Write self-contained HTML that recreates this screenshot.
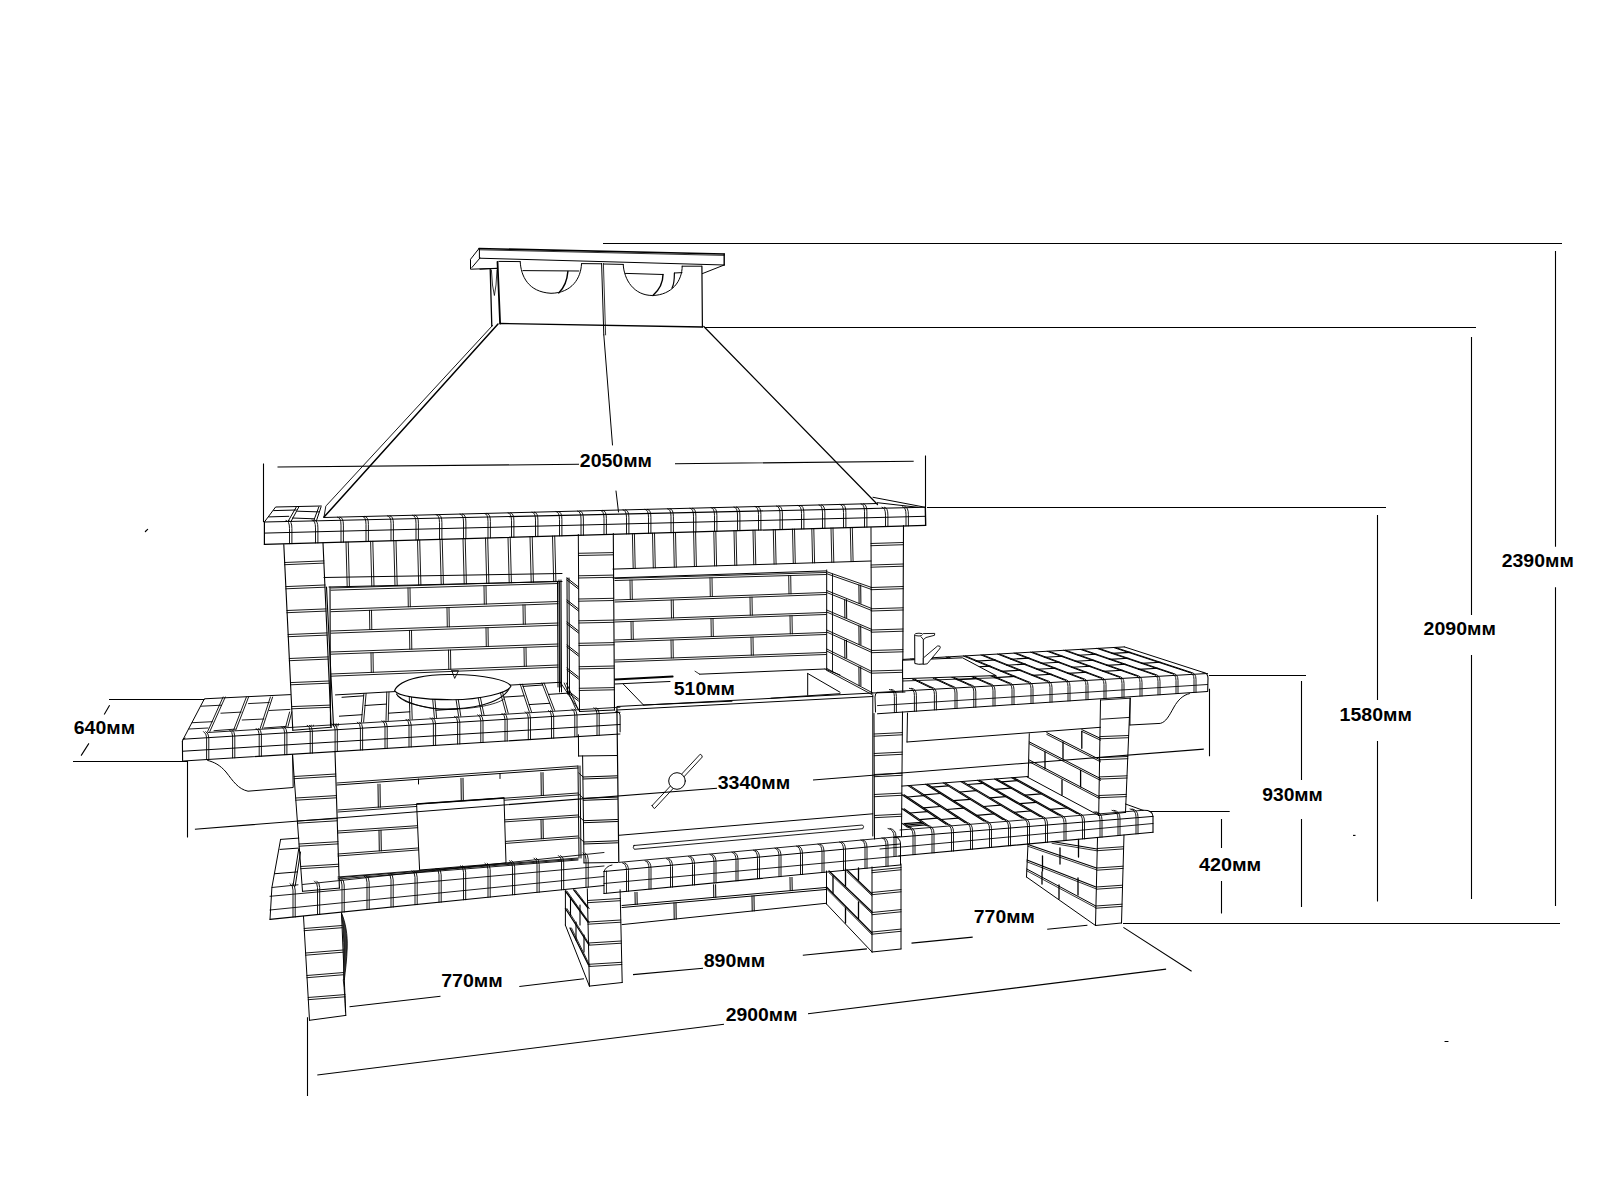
<!DOCTYPE html>
<html><head><meta charset="utf-8"><style>
html,body{margin:0;padding:0;background:#fff;}
svg{display:block;}
text{font-family:"Liberation Sans",sans-serif;font-weight:bold;font-size:18.4px;fill:#000;}
</style></head><body>
<svg width="1600" height="1200" viewBox="0 0 1600 1200">
<rect width="1600" height="1200" fill="#fff"/>
<g id="draw" stroke="#000" stroke-width="1" fill="none" stroke-linejoin="round" stroke-linecap="round">
<path d="M479.0 248.5 L724.2 254.0" stroke-width="1.6"/>
<path d="M479.0 249.8 L724.2 255.4" stroke-width="0.8"/>
<path d="M479.0 248.5 L470.5 259.3 L470.5 269.2 L497.0 268.3"/>
<path d="M479.4 248.7 L479.4 258.2"/>
<path d="M480.0 258.0 L471.9 267.5"/>
<path d="M479.4 258.2 L724.2 265.0"/>
<path d="M724.2 254.0 L724.2 265.0" stroke-width="1.4"/>
<path d="M724.2 265.0 L702.4 273.6"/>
<path d="M490.2 268.8 L491.8 326.1" stroke-width="1.3"/>
<path d="M497.5 261.8 L500.1 323.5" stroke-width="1.8"/>
<path d="M491.4 270.0 L492.5 285.0 L494.4 295.5 L496.0 285.0 L497.0 270.0" stroke-width="0.8"/>
<path d="M498.8 261.4 L520.2 261.6"/>
<path d="M581.5 263.6 L601.6 263.8"/>
<path d="M603.5 264.0 L623.2 264.4"/>
<path d="M682.2 266.2 L701.5 266.2"/>
<path d="M701.9 266.2 L702.4 327.0" stroke-width="1.2"/>
<path d="M500.1 323.5 L702.4 327.0" stroke-width="1.3"/>
<path d="M601.6 263.4 L603.8 334.9" stroke-width="1.0"/>
<path d="M603.4 263.4 L605.6 334.9" stroke-width="0.8"/>
<path d="M520.2 261.8 C521 276 528 292 551 293.3 C572 293 581 278 581.5 264"/>
<path d="M522.9 270.6 L578.9 271.0"/>
<path d="M567.9 271.4 C567 282 563 289 558.7 292.9" stroke-width="1.4"/>
<path d="M623.2 264.4 C624 280 634 295.5 652.5 295.5 C672 295 682.2 281 682.2 266.2"/>
<path d="M625.4 273.4 L663.0 274.5"/>
<path d="M674.4 273.0 L682.0 272.6"/>
<path d="M663 274.5 C663 285 658 291 652.9 295.5" stroke-width="1.4"/>
<path d="M674.4 273 C674.4 280 674.4 284 672 288" stroke-width="1.2"/>
<path d="M480.0 269.2 L496.6 268.4"/>
<path d="M492.5 325.5 L326.6 505.3 L325.8 506.2 L324.0 517.1" stroke-width="0.9"/>
<path d="M498.0 324.0 L324.0 517.1" stroke-width="1.5"/>
<path d="M703.8 326.5 L877.5 504.5" stroke-width="1.2"/>
<path d="M873.0 497.3 L925.3 507.3"/>
<path d="M877.3 502.7 L918.0 507.3"/>
<path d="M603.8 334.9 L612.5 445.0"/>
<path d="M616.0 491.0 L618.5 512.0"/>
<path d="M264.4 522.0 L925.3 507.3" stroke-width="1.1"/>
<path d="M264.4 533.1 L925.3 516.3"/>
<path d="M264.4 544.4 L925.7 525.3" stroke-width="1.2"/>
<path d="M264.4 522.0 L264.4 544.4" stroke-width="1.2"/>
<path d="M925.3 507.3 L925.7 525.3" stroke-width="1.3"/>
<path d="M264.4 522.0 L275.6 507.0 L321.3 506.0"/>
<path d="M273.7 510.6 L296.3 510.0"/>
<path d="M297.5 511.2 L318.8 511.9"/>
<path d="M268.8 516.9 L288.8 516.3"/>
<path d="M292.5 518.0 L313.8 518.8"/>
<path d="M288.0 521.5 L296.3 507.0"/>
<path d="M291.0 521.5 L298.8 507.0"/>
<path d="M313.8 520.5 L318.8 507.0"/>
<path d="M316.5 520.5 L321.0 507.0"/>
<path d="M286.0 520.4 Q289.5 520.7 289.5 528.4 L289.5 543.7" stroke-width="0.9"/>
<path d="M288.4 520.4 Q291.9 520.7 291.9 528.4 L291.9 543.7" stroke-width="0.9"/>
<path d="M312.0 519.9 Q315.5 520.2 315.5 527.9 L315.5 542.9" stroke-width="0.9"/>
<path d="M314.4 519.9 Q317.9 520.2 317.9 527.9 L317.9 542.9" stroke-width="0.9"/>
<path d="M337.5 517.1 Q341.0 517.4 341.0 525.1 L341.0 542.2" stroke-width="0.9"/>
<path d="M339.9 517.1 Q343.4 517.4 343.4 525.1 L343.4 542.2" stroke-width="0.9"/>
<path d="M362.5 516.4 Q366.0 516.7 366.0 524.4 L366.0 541.5" stroke-width="0.9"/>
<path d="M364.9 516.4 Q368.4 516.7 368.4 524.4 L368.4 541.5" stroke-width="0.9"/>
<path d="M387.5 515.8 Q391.0 516.1 391.0 523.8 L391.0 540.7" stroke-width="0.9"/>
<path d="M389.9 515.8 Q393.4 516.1 393.4 523.8 L393.4 540.7" stroke-width="0.9"/>
<path d="M412.5 515.2 Q416.0 515.5 416.0 523.2 L416.0 540.0" stroke-width="0.9"/>
<path d="M414.9 515.2 Q418.4 515.5 418.4 523.2 L418.4 540.0" stroke-width="0.9"/>
<path d="M436.0 514.6 Q439.5 514.9 439.5 522.6 L439.5 539.3" stroke-width="0.9"/>
<path d="M438.4 514.6 Q441.9 514.9 441.9 522.6 L441.9 539.3" stroke-width="0.9"/>
<path d="M460.0 514.0 Q463.5 514.3 463.5 522.0 L463.5 538.6" stroke-width="0.9"/>
<path d="M462.4 514.0 Q465.9 514.3 465.9 522.0 L465.9 538.6" stroke-width="0.9"/>
<path d="M484.5 513.4 Q488.0 513.7 488.0 521.4 L488.0 537.9" stroke-width="0.9"/>
<path d="M486.9 513.4 Q490.4 513.7 490.4 521.4 L490.4 537.9" stroke-width="0.9"/>
<path d="M508.0 512.8 Q511.5 513.1 511.5 520.8 L511.5 537.3" stroke-width="0.9"/>
<path d="M510.4 512.8 Q513.9 513.1 513.9 520.8 L513.9 537.3" stroke-width="0.9"/>
<path d="M532.0 512.1 Q535.5 512.4 535.5 520.1 L535.5 536.6" stroke-width="0.9"/>
<path d="M534.4 512.1 Q537.9 512.4 537.9 520.1 L537.9 536.6" stroke-width="0.9"/>
<path d="M556.0 511.5 Q559.5 511.8 559.5 519.5 L559.5 535.9" stroke-width="0.9"/>
<path d="M558.4 511.5 Q561.9 511.8 561.9 519.5 L561.9 535.9" stroke-width="0.9"/>
<path d="M577.5 511.0 Q581.0 511.3 581.0 519.0 L581.0 535.3" stroke-width="0.9"/>
<path d="M579.9 511.0 Q583.4 511.3 583.4 519.0 L583.4 535.3" stroke-width="0.9"/>
<path d="M600.5 510.4 Q604.0 510.7 604.0 518.4 L604.0 534.6" stroke-width="0.9"/>
<path d="M602.9 510.4 Q606.4 510.7 606.4 518.4 L606.4 534.6" stroke-width="0.9"/>
<path d="M623.0 509.8 Q626.5 510.1 626.5 517.8 L626.5 533.9" stroke-width="0.9"/>
<path d="M625.4 509.8 Q628.9 510.1 628.9 517.8 L628.9 533.9" stroke-width="0.9"/>
<path d="M645.0 509.3 Q648.5 509.6 648.5 517.3 L648.5 533.3" stroke-width="0.9"/>
<path d="M647.4 509.3 Q650.9 509.6 650.9 517.3 L650.9 533.3" stroke-width="0.9"/>
<path d="M667.5 508.7 Q671.0 509.0 671.0 516.7 L671.0 532.7" stroke-width="0.9"/>
<path d="M669.9 508.7 Q673.4 509.0 673.4 516.7 L673.4 532.7" stroke-width="0.9"/>
<path d="M690.0 508.2 Q693.5 508.5 693.5 516.2 L693.5 532.0" stroke-width="0.9"/>
<path d="M692.4 508.2 Q695.9 508.5 695.9 516.2 L695.9 532.0" stroke-width="0.9"/>
<path d="M711.0 507.6 Q714.5 507.9 714.5 515.6 L714.5 531.4" stroke-width="0.9"/>
<path d="M713.4 507.6 Q716.9 507.9 716.9 515.6 L716.9 531.4" stroke-width="0.9"/>
<path d="M734.0 507.0 Q737.5 507.3 737.5 515.0 L737.5 530.7" stroke-width="0.9"/>
<path d="M736.4 507.0 Q739.9 507.3 739.9 515.0 L739.9 530.7" stroke-width="0.9"/>
<path d="M755.0 506.5 Q758.5 506.8 758.5 514.5 L758.5 530.1" stroke-width="0.9"/>
<path d="M757.4 506.5 Q760.9 506.8 760.9 514.5 L760.9 530.1" stroke-width="0.9"/>
<path d="M776.5 506.0 Q780.0 506.3 780.0 514.0 L780.0 529.5" stroke-width="0.9"/>
<path d="M778.9 506.0 Q782.4 506.3 782.4 514.0 L782.4 529.5" stroke-width="0.9"/>
<path d="M798.0 505.4 Q801.5 505.7 801.5 513.4 L801.5 528.9" stroke-width="0.9"/>
<path d="M800.4 505.4 Q803.9 505.7 803.9 513.4 L803.9 528.9" stroke-width="0.9"/>
<path d="M819.0 504.9 Q822.5 505.2 822.5 512.9 L822.5 528.3" stroke-width="0.9"/>
<path d="M821.4 504.9 Q824.9 505.2 824.9 512.9 L824.9 528.3" stroke-width="0.9"/>
<path d="M840.0 504.4 Q843.5 504.7 843.5 512.4 L843.5 527.7" stroke-width="0.9"/>
<path d="M842.4 504.4 Q845.9 504.7 845.9 512.4 L845.9 527.7" stroke-width="0.9"/>
<path d="M861.0 503.8 Q864.5 504.1 864.5 511.8 L864.5 527.1" stroke-width="0.9"/>
<path d="M863.4 503.8 Q866.9 504.1 866.9 511.8 L866.9 527.1" stroke-width="0.9"/>
<path d="M882.0 507.2 Q885.5 507.5 885.5 515.2 L885.5 526.5" stroke-width="0.9"/>
<path d="M884.4 507.2 Q887.9 507.5 887.9 515.2 L887.9 526.5" stroke-width="0.9"/>
<path d="M902.5 506.7 Q906.0 507.0 906.0 514.7 L906.0 525.9" stroke-width="0.9"/>
<path d="M904.9 506.7 Q908.4 507.0 908.4 514.7 L908.4 525.9" stroke-width="0.9"/>
<path d="M324.0 517.5 L877.3 503.5"/>
<path d="M324.0 577.5 L562.0 573.5"/>
<path d="M329.0 587.0 L562.0 581.5"/>
<path d="M346.0 542.0 L347.2 586.6" stroke-width="0.9"/>
<path d="M348.2 542.0 L349.4 586.6" stroke-width="0.9"/>
<path d="M370.6 541.3 L371.8 586.0" stroke-width="0.9"/>
<path d="M372.8 541.3 L374.0 586.0" stroke-width="0.9"/>
<path d="M393.8 540.7 L395.0 585.5" stroke-width="0.9"/>
<path d="M396.0 540.7 L397.2 585.5" stroke-width="0.9"/>
<path d="M417.5 540.0 L418.7 584.9" stroke-width="0.9"/>
<path d="M419.7 540.0 L420.9 584.9" stroke-width="0.9"/>
<path d="M440.0 539.3 L441.2 584.4" stroke-width="0.9"/>
<path d="M442.2 539.3 L443.4 584.4" stroke-width="0.9"/>
<path d="M463.0 538.7 L464.2 583.8" stroke-width="0.9"/>
<path d="M465.2 538.7 L466.4 583.8" stroke-width="0.9"/>
<path d="M485.5 538.0 L486.7 583.3" stroke-width="0.9"/>
<path d="M487.7 538.0 L488.9 583.3" stroke-width="0.9"/>
<path d="M508.0 537.4 L509.2 582.8" stroke-width="0.9"/>
<path d="M510.2 537.4 L511.4 582.8" stroke-width="0.9"/>
<path d="M530.0 536.7 L531.2 582.3" stroke-width="0.9"/>
<path d="M532.2 536.7 L533.4 582.3" stroke-width="0.9"/>
<path d="M552.5 536.1 L553.7 581.7" stroke-width="0.9"/>
<path d="M554.7 536.1 L555.9 581.7" stroke-width="0.9"/>
<path d="M613.0 569.1 L871.0 561.0"/>
<path d="M613.0 577.9 L826.0 570.9"/>
<path d="M632.4 533.8 L633.2 568.5" stroke-width="0.9"/>
<path d="M634.4 533.8 L635.2 568.5" stroke-width="0.9"/>
<path d="M652.5 533.2 L653.3 567.9" stroke-width="0.9"/>
<path d="M654.5 533.2 L655.3 567.9" stroke-width="0.9"/>
<path d="M673.5 532.6 L674.3 567.2" stroke-width="0.9"/>
<path d="M675.5 532.6 L676.3 567.2" stroke-width="0.9"/>
<path d="M693.6 532.0 L694.4 566.6" stroke-width="0.9"/>
<path d="M695.6 532.0 L696.4 566.6" stroke-width="0.9"/>
<path d="M713.8 531.4 L714.6 565.9" stroke-width="0.9"/>
<path d="M715.8 531.4 L716.6 565.9" stroke-width="0.9"/>
<path d="M734.0 530.8 L734.8 565.3" stroke-width="0.9"/>
<path d="M736.0 530.8 L736.8 565.3" stroke-width="0.9"/>
<path d="M753.0 530.3 L753.8 564.7" stroke-width="0.9"/>
<path d="M755.0 530.3 L755.8 564.7" stroke-width="0.9"/>
<path d="M773.3 529.7 L774.1 564.1" stroke-width="0.9"/>
<path d="M775.3 529.7 L776.1 564.1" stroke-width="0.9"/>
<path d="M792.5 529.1 L793.3 563.5" stroke-width="0.9"/>
<path d="M794.5 529.1 L795.3 563.5" stroke-width="0.9"/>
<path d="M811.8 528.6 L812.6 562.9" stroke-width="0.9"/>
<path d="M813.8 528.6 L814.6 562.9" stroke-width="0.9"/>
<path d="M831.0 528.0 L831.8 562.3" stroke-width="0.9"/>
<path d="M833.0 528.0 L833.8 562.3" stroke-width="0.9"/>
<path d="M850.3 527.5 L851.1 561.6" stroke-width="0.9"/>
<path d="M852.3 527.5 L853.1 561.6" stroke-width="0.9"/>
<path d="M283.8 544.6 L292.8 730.3" stroke-width="1.1"/>
<path d="M323.0 543.0 L331.2 727.3" stroke-width="1.1"/>
<path d="M292.8 730.3 L331.2 727.3" stroke-width="1.1"/>
<path d="M284.6 562.5 L323.9 560.9" stroke-width="0.9"/>
<path d="M284.6 564.7 L323.9 563.1" stroke-width="0.9"/>
<path d="M285.8 586.6 L325.0 585.0" stroke-width="0.9"/>
<path d="M285.8 588.8 L325.0 587.2" stroke-width="0.9"/>
<path d="M286.9 610.5 L326.0 608.9" stroke-width="0.9"/>
<path d="M286.9 612.7 L326.0 611.1" stroke-width="0.9"/>
<path d="M288.1 634.5 L327.1 632.9" stroke-width="0.9"/>
<path d="M288.1 636.7 L327.1 635.1" stroke-width="0.9"/>
<path d="M289.3 658.5 L328.2 656.9" stroke-width="0.9"/>
<path d="M289.3 660.7 L328.2 659.1" stroke-width="0.9"/>
<path d="M290.4 682.6 L329.2 681.0" stroke-width="0.9"/>
<path d="M290.4 684.8 L329.2 683.2" stroke-width="0.9"/>
<path d="M291.6 706.6 L330.3 705.1" stroke-width="0.9"/>
<path d="M291.6 708.8 L330.3 707.3" stroke-width="0.9"/>
<path d="M326.5 587.0 L333.5 726.0" stroke-width="1.1"/>
<path d="M330.0 587.0 L330.5 726.0" stroke-width="1.1"/>
<path d="M578.3 534.5 L579.5 711.5" stroke-width="1.0"/>
<path d="M613.3 533.5 L614.5 710.0" stroke-width="1.1"/>
<path d="M579.5 711.5 L614.5 710.0" stroke-width="1.1"/>
<path d="M578.4 553.3 L613.4 552.6" stroke-width="0.9"/>
<path d="M578.4 555.5 L613.4 554.8" stroke-width="0.9"/>
<path d="M578.6 575.8 L613.6 575.1" stroke-width="0.9"/>
<path d="M578.6 578.0 L613.6 577.3" stroke-width="0.9"/>
<path d="M578.7 599.0 L613.7 598.3" stroke-width="0.9"/>
<path d="M578.7 601.2 L613.7 600.5" stroke-width="0.9"/>
<path d="M578.9 620.8 L613.9 620.1" stroke-width="0.9"/>
<path d="M578.9 623.0 L613.9 622.3" stroke-width="0.9"/>
<path d="M579.0 643.3 L614.0 642.6" stroke-width="0.9"/>
<path d="M579.0 645.5 L614.0 644.8" stroke-width="0.9"/>
<path d="M579.2 666.7 L614.2 666.0" stroke-width="0.9"/>
<path d="M579.2 668.9 L614.2 668.2" stroke-width="0.9"/>
<path d="M579.3 688.3 L614.4 687.6" stroke-width="0.9"/>
<path d="M579.3 690.5 L614.4 689.8" stroke-width="0.9"/>
<path d="M567.0 578.0 L567.5 694.0"/>
<path d="M569.0 578.0 L569.5 694.0"/>
<path d="M567.0 578.0 L578.5 587.0"/>
<path d="M567.0 580.0 L578.5 589.0"/>
<path d="M567.0 600.0 L578.5 609.0"/>
<path d="M567.0 602.0 L578.5 611.0"/>
<path d="M567.0 622.0 L578.5 631.0"/>
<path d="M567.0 624.0 L578.5 633.0"/>
<path d="M567.0 645.0 L578.5 654.0"/>
<path d="M567.0 647.0 L578.5 656.0"/>
<path d="M567.0 668.0 L578.5 677.0"/>
<path d="M567.0 670.0 L578.5 679.0"/>
<path d="M567.0 690.0 L578.5 699.0"/>
<path d="M567.0 692.0 L578.5 701.0"/>
<path d="M559.0 580.0 L559.5 692.0"/>
<path d="M561.0 580.0 L561.5 692.0"/>
<path d="M871.0 527.5 L871.5 693.0" stroke-width="1.0"/>
<path d="M903.5 525.5 L902.7 692.0" stroke-width="1.1"/>
<path d="M871.5 693.0 L905.0 692.0" stroke-width="1.0"/>
<path d="M871.0 543.5 L903.4 542.5" stroke-width="0.9"/>
<path d="M871.0 545.7 L903.4 544.7" stroke-width="0.9"/>
<path d="M871.1 565.0 L903.3 564.0" stroke-width="0.9"/>
<path d="M871.1 567.2 L903.3 566.2" stroke-width="0.9"/>
<path d="M871.2 587.5 L903.2 586.5" stroke-width="0.9"/>
<path d="M871.2 589.7 L903.2 588.7" stroke-width="0.9"/>
<path d="M871.2 608.8 L903.1 607.8" stroke-width="0.9"/>
<path d="M871.2 611.0 L903.1 610.0" stroke-width="0.9"/>
<path d="M871.3 630.0 L903.0 629.0" stroke-width="0.9"/>
<path d="M871.3 632.2 L903.0 631.2" stroke-width="0.9"/>
<path d="M871.4 650.5 L902.9 649.6" stroke-width="0.9"/>
<path d="M871.4 652.7 L902.9 651.8" stroke-width="0.9"/>
<path d="M871.4 671.0 L902.8 670.1" stroke-width="0.9"/>
<path d="M871.4 673.2 L902.8 672.3" stroke-width="0.9"/>
<path d="M331.0 588.0 L558.0 581.3" stroke-width="0.9"/>
<path d="M331.0 590.2 L558.0 583.5" stroke-width="0.9"/>
<path d="M331.0 609.5 L558.0 601.5" stroke-width="0.9"/>
<path d="M331.0 611.7 L558.0 603.7" stroke-width="0.9"/>
<path d="M331.0 631.0 L558.0 623.0" stroke-width="0.9"/>
<path d="M331.0 633.2 L558.0 625.2" stroke-width="0.9"/>
<path d="M331.0 652.0 L558.0 644.0" stroke-width="0.9"/>
<path d="M331.0 654.2 L558.0 646.2" stroke-width="0.9"/>
<path d="M331.0 674.0 L558.0 665.0" stroke-width="0.9"/>
<path d="M331.0 676.2 L558.0 667.2" stroke-width="0.9"/>
<path d="M408.0 587.9 L408.3 606.8" stroke-width="0.9"/>
<path d="M410.0 587.9 L410.3 606.8" stroke-width="0.9"/>
<path d="M484.0 585.7 L484.3 604.1" stroke-width="0.9"/>
<path d="M486.0 585.7 L486.3 604.1" stroke-width="0.9"/>
<path d="M369.5 610.3 L369.8 629.6" stroke-width="0.9"/>
<path d="M371.5 610.3 L371.8 629.6" stroke-width="0.9"/>
<path d="M447.0 607.6 L447.3 626.9" stroke-width="0.9"/>
<path d="M449.0 607.6 L449.3 626.9" stroke-width="0.9"/>
<path d="M523.0 604.9 L523.3 624.2" stroke-width="0.9"/>
<path d="M525.0 604.9 L525.3 624.2" stroke-width="0.9"/>
<path d="M409.5 630.4 L409.8 649.2" stroke-width="0.9"/>
<path d="M411.5 630.4 L411.8 649.2" stroke-width="0.9"/>
<path d="M486.0 627.7 L486.3 646.5" stroke-width="0.9"/>
<path d="M488.0 627.7 L488.3 646.5" stroke-width="0.9"/>
<path d="M371.0 652.8 L371.3 672.4" stroke-width="0.9"/>
<path d="M373.0 652.8 L373.3 672.4" stroke-width="0.9"/>
<path d="M448.5 650.1 L448.8 669.3" stroke-width="0.9"/>
<path d="M450.5 650.1 L450.8 669.3" stroke-width="0.9"/>
<path d="M524.0 647.4 L524.3 666.3" stroke-width="0.9"/>
<path d="M526.0 647.4 L526.3 666.3" stroke-width="0.9"/>
<path d="M557.5 581.5 L558.0 687.0" stroke-width="1.0"/>
<path d="M559.7 581.5 L560.2 687.0" stroke-width="1.0"/>
<path d="M615.0 578.5 L826.0 572.5" stroke-width="0.9"/>
<path d="M615.0 580.5 L826.0 574.5" stroke-width="0.9"/>
<path d="M615.0 600.0 L826.0 592.5" stroke-width="0.9"/>
<path d="M615.0 602.0 L826.0 594.5" stroke-width="0.9"/>
<path d="M615.0 620.0 L826.0 612.5" stroke-width="0.9"/>
<path d="M615.0 622.0 L826.0 614.5" stroke-width="0.9"/>
<path d="M615.0 640.0 L826.0 632.5" stroke-width="0.9"/>
<path d="M615.0 642.0 L826.0 634.5" stroke-width="0.9"/>
<path d="M615.0 660.0 L826.0 652.5" stroke-width="0.9"/>
<path d="M615.0 662.0 L826.0 654.5" stroke-width="0.9"/>
<path d="M630.0 580.1 L630.3 599.5" stroke-width="0.9"/>
<path d="M632.0 580.1 L632.3 599.5" stroke-width="0.9"/>
<path d="M710.0 577.8 L710.3 596.6" stroke-width="0.9"/>
<path d="M712.0 577.8 L712.3 596.6" stroke-width="0.9"/>
<path d="M788.7 575.6 L789.0 593.8" stroke-width="0.9"/>
<path d="M790.7 575.6 L791.0 593.8" stroke-width="0.9"/>
<path d="M671.2 600.0 L671.5 618.0" stroke-width="0.9"/>
<path d="M673.2 600.0 L673.5 618.0" stroke-width="0.9"/>
<path d="M750.0 597.2 L750.3 615.2" stroke-width="0.9"/>
<path d="M752.0 597.2 L752.3 615.2" stroke-width="0.9"/>
<path d="M631.0 621.4 L631.3 639.4" stroke-width="0.9"/>
<path d="M633.0 621.4 L633.3 639.4" stroke-width="0.9"/>
<path d="M711.0 618.6 L711.3 636.6" stroke-width="0.9"/>
<path d="M713.0 618.6 L713.3 636.6" stroke-width="0.9"/>
<path d="M790.0 615.8 L790.3 633.8" stroke-width="0.9"/>
<path d="M792.0 615.8 L792.3 633.8" stroke-width="0.9"/>
<path d="M671.0 640.0 L671.3 658.0" stroke-width="0.9"/>
<path d="M673.0 640.0 L673.3 658.0" stroke-width="0.9"/>
<path d="M751.0 637.2 L751.3 655.2" stroke-width="0.9"/>
<path d="M753.0 637.2 L753.3 655.2" stroke-width="0.9"/>
<path d="M826.7 571.7 L871.7 587.5" stroke-width="0.9"/>
<path d="M826.7 573.7 L871.7 589.5" stroke-width="0.9"/>
<path d="M826.7 590.5 L871.7 608.5" stroke-width="0.9"/>
<path d="M826.7 592.5 L871.7 610.5" stroke-width="0.9"/>
<path d="M826.7 610.0 L871.7 629.4" stroke-width="0.9"/>
<path d="M826.7 612.0 L871.7 631.4" stroke-width="0.9"/>
<path d="M826.7 630.0 L871.7 650.4" stroke-width="0.9"/>
<path d="M826.7 632.0 L871.7 652.4" stroke-width="0.9"/>
<path d="M826.7 649.0 L871.7 671.4" stroke-width="0.9"/>
<path d="M826.7 651.0 L871.7 673.4" stroke-width="0.9"/>
<path d="M826.7 668.4 L871.7 692.4" stroke-width="0.9"/>
<path d="M826.7 670.4 L871.7 694.4" stroke-width="0.9"/>
<path d="M826.7 570.0 L826.7 670.0" stroke-width="1.0"/>
<path d="M832.5 574.0 L832.5 672.0" stroke-width="0.9"/>
<path d="M858.9 585.0 L859.1 603.4"/>
<path d="M860.7 585.0 L860.9 603.4"/>
<path d="M844.7 599.7 L844.9 617.8"/>
<path d="M846.5 599.7 L846.7 617.8"/>
<path d="M858.9 625.9 L859.1 644.6"/>
<path d="M860.7 625.9 L860.9 644.6"/>
<path d="M844.7 640.2 L844.9 658.0"/>
<path d="M846.5 640.2 L846.7 658.0"/>
<path d="M858.9 667.0 L859.1 685.6"/>
<path d="M860.7 667.0 L860.9 685.6"/>
<path d="M183.2 739.2 L620.0 712.3" stroke-width="1.0"/>
<path d="M183.2 751.2 L620.0 724.5" stroke-width="1.0"/>
<path d="M183.2 761.0 L620.0 734.0" stroke-width="1.1"/>
<path d="M208.0 732.5 L620.0 707.2" stroke-width="0.9"/>
<path d="M182.4 741.0 L182.6 760.5" stroke-width="1.1"/>
<path d="M182.4 741 Q182.5 738.5 185 738" />
<path d="M183.2 739.2 L204.4 698.8 L290.5 694.6" stroke-width="1.0"/>
<path d="M201.2 706.2 L221.4 705.2" stroke-width="0.9"/>
<path d="M220.9 713.2 L241.1 712.1" stroke-width="0.9"/>
<path d="M248.5 703.6 L269.2 702.5" stroke-width="0.9"/>
<path d="M242.2 720.0 L263.9 719.0" stroke-width="0.9"/>
<path d="M269.2 710.5 L290.0 709.4" stroke-width="0.9"/>
<path d="M192.2 722.7 L212.4 721.7" stroke-width="0.9"/>
<path d="M214.0 730.7 L235.2 729.1" stroke-width="0.9"/>
<path d="M264.0 728.0 L286.2 726.4" stroke-width="0.9"/>
<path d="M189.0 729.0 L208.0 728.0" stroke-width="0.9"/>
<path d="M203.6 731.6 Q206.6 733.6 206.6 737.6 L206.6 759.6" stroke-width="0.9"/>
<path d="M205.8 731.6 Q208.8 733.6 208.8 737.6 L208.8 759.6" stroke-width="0.9"/>
<path d="M229.6 730.0 Q232.6 732.0 232.6 736.0 L232.6 757.9" stroke-width="0.9"/>
<path d="M231.8 730.0 Q234.8 732.0 234.8 736.0 L234.8 757.9" stroke-width="0.9"/>
<path d="M256.2 728.4 Q259.2 730.4 259.2 734.4 L259.2 756.3" stroke-width="0.9"/>
<path d="M258.4 728.4 Q261.4 730.4 261.4 734.4 L261.4 756.3" stroke-width="0.9"/>
<path d="M281.7 726.8 Q284.7 728.8 284.7 732.8 L284.7 754.7" stroke-width="0.9"/>
<path d="M283.9 726.8 Q286.9 728.8 286.9 732.8 L286.9 754.7" stroke-width="0.9"/>
<path d="M307.2 725.2 Q310.2 727.2 310.2 731.2 L310.2 753.1" stroke-width="0.9"/>
<path d="M309.4 725.2 Q312.4 727.2 312.4 731.2 L312.4 753.1" stroke-width="0.9"/>
<path d="M332.1 723.7 Q335.1 725.7 335.1 729.7 L335.1 751.6" stroke-width="0.9"/>
<path d="M334.3 723.7 Q337.3 725.7 337.3 729.7 L337.3 751.6" stroke-width="0.9"/>
<path d="M357.4 722.1 Q360.4 724.1 360.4 728.1 L360.4 750.0" stroke-width="0.9"/>
<path d="M359.6 722.1 Q362.6 724.1 362.6 728.1 L362.6 750.0" stroke-width="0.9"/>
<path d="M382.0 720.6 Q385.0 722.6 385.0 726.6 L385.0 748.5" stroke-width="0.9"/>
<path d="M384.2 720.6 Q387.2 722.6 387.2 726.6 L387.2 748.5" stroke-width="0.9"/>
<path d="M406.0 719.2 Q409.0 721.2 409.0 725.2 L409.0 747.0" stroke-width="0.9"/>
<path d="M408.2 719.2 Q411.2 721.2 411.2 725.2 L411.2 747.0" stroke-width="0.9"/>
<path d="M430.4 717.7 Q433.4 719.7 433.4 723.7 L433.4 745.5" stroke-width="0.9"/>
<path d="M432.6 717.7 Q435.6 719.7 435.6 723.7 L435.6 745.5" stroke-width="0.9"/>
<path d="M454.6 716.2 Q457.6 718.2 457.6 722.2 L457.6 744.0" stroke-width="0.9"/>
<path d="M456.8 716.2 Q459.8 718.2 459.8 722.2 L459.8 744.0" stroke-width="0.9"/>
<path d="M477.8 714.7 Q480.8 716.7 480.8 720.7 L480.8 742.6" stroke-width="0.9"/>
<path d="M480.0 714.7 Q483.0 716.7 483.0 720.7 L483.0 742.6" stroke-width="0.9"/>
<path d="M502.0 713.3 Q505.0 715.3 505.0 719.3 L505.0 741.1" stroke-width="0.9"/>
<path d="M504.2 713.3 Q507.2 715.3 507.2 719.3 L507.2 741.1" stroke-width="0.9"/>
<path d="M525.3 711.8 Q528.3 713.8 528.3 717.8 L528.3 739.7" stroke-width="0.9"/>
<path d="M527.5 711.8 Q530.5 713.8 530.5 717.8 L530.5 739.7" stroke-width="0.9"/>
<path d="M548.5 710.4 Q551.5 712.4 551.5 716.4 L551.5 738.2" stroke-width="0.9"/>
<path d="M550.7 710.4 Q553.7 712.4 553.7 716.4 L553.7 738.2" stroke-width="0.9"/>
<path d="M571.8 709.0 Q574.8 711.0 574.8 715.0 L574.8 736.8" stroke-width="0.9"/>
<path d="M574.0 709.0 Q577.0 711.0 577.0 715.0 L577.0 736.8" stroke-width="0.9"/>
<path d="M594.0 707.6 Q597.0 709.6 597.0 713.6 L597.0 735.4" stroke-width="0.9"/>
<path d="M596.2 707.6 Q599.2 709.6 599.2 713.6 L599.2 735.4" stroke-width="0.9"/>
<path d="M207.6 731.6 L223.1 697.0" stroke-width="0.9"/>
<path d="M209.8 731.6 L225.3 697.0" stroke-width="0.9"/>
<path d="M233.6 730.0 L246.4 697.0" stroke-width="0.9"/>
<path d="M235.8 730.0 L248.6 697.0" stroke-width="0.9"/>
<path d="M260.2 728.4 L270.4 697.0" stroke-width="0.9"/>
<path d="M262.4 728.4 L272.6 697.0" stroke-width="0.9"/>
<path d="M285.7 726.8 L289.6 712.0" stroke-width="0.9"/>
<path d="M287.9 726.8 L291.8 712.0" stroke-width="0.9"/>
<path d="M335.5 694.9 L560.3 682.3" stroke-width="1.0"/>
<path d="M311.2 725.2 L311.0 726.0" stroke-width="0.9"/>
<path d="M313.4 725.2 L313.2 726.0" stroke-width="0.9"/>
<path d="M336.1 723.7 L335.8 726.0" stroke-width="0.9"/>
<path d="M338.3 723.7 L338.0 726.0" stroke-width="0.9"/>
<path d="M361.4 722.1 L363.9 693.5" stroke-width="0.9"/>
<path d="M363.6 722.1 L366.1 693.5" stroke-width="0.9"/>
<path d="M386.0 720.6 L386.8 692.1" stroke-width="0.9"/>
<path d="M388.2 720.6 L389.0 692.1" stroke-width="0.9"/>
<path d="M410.0 719.2 L409.1 690.8" stroke-width="0.9"/>
<path d="M412.2 719.2 L411.3 690.8" stroke-width="0.9"/>
<path d="M434.4 717.7 L431.8 689.4" stroke-width="0.9"/>
<path d="M436.6 717.7 L434.0 689.4" stroke-width="0.9"/>
<path d="M458.6 716.2 L454.3 688.1" stroke-width="0.9"/>
<path d="M460.8 716.2 L456.5 688.1" stroke-width="0.9"/>
<path d="M481.8 714.7 L475.9 686.8" stroke-width="0.9"/>
<path d="M484.0 714.7 L478.1 686.8" stroke-width="0.9"/>
<path d="M506.0 713.3 L498.5 685.4" stroke-width="0.9"/>
<path d="M508.2 713.3 L500.7 685.4" stroke-width="0.9"/>
<path d="M529.3 711.8 L520.2 684.1" stroke-width="0.9"/>
<path d="M531.5 711.8 L522.4 684.1" stroke-width="0.9"/>
<path d="M552.5 710.4 L541.9 683.0" stroke-width="0.9"/>
<path d="M554.7 710.4 L544.1 683.0" stroke-width="0.9"/>
<path d="M575.8 709.0 L564.2 683.0" stroke-width="0.9"/>
<path d="M578.0 709.0 L566.4 683.0" stroke-width="0.9"/>
<path d="M339.4 716.2 L362.0 714.7" stroke-width="1.0"/>
<path d="M342.0 697.3 L363.7 695.8" stroke-width="1.0"/>
<path d="M364.9 705.5 L386.4 704.1" stroke-width="1.0"/>
<path d="M388.4 713.2 L409.8 711.8" stroke-width="1.0"/>
<path d="M435.9 710.3 L457.5 708.9" stroke-width="1.0"/>
<path d="M503.8 697.1 L524.0 695.8" stroke-width="1.0"/>
<path d="M529.1 704.6 L549.7 703.3" stroke-width="1.0"/>
<path d="M523.0 686.4 L542.7 685.0" stroke-width="1.0"/>
<path d="M548.4 694.4 L568.7 693.1" stroke-width="1.0"/>
<path d="M560.3 682.3 L579.6 711.3" stroke-width="0.9"/>
<path d="M207.6 760.4 C214 762 220 765 226 772 C233 781 238 789 248 791.2 L293.2 787.5 L292.6 754.6" stroke-width="1.0"/>
<path d="M394.6 690.5 C400 678 430 674 452.7 674.5 C485 675 508 680 510.9 686.2 C508 693 480 699.5 452.7 699.7 C420 699.7 397 696 394.6 690.5 Z" fill="#fff" stroke-width="1.1"/>
<path d="M396.5 694 C400 700 412 706 440 709 C470 710 500 704 509 689" fill="none" stroke-width="1.1"/>
<path d="M397.5 695.8 C410 705 430 709.4 446 709.4 C480 709 500 703 504 698.8" fill="none" stroke-width="0.8"/>
<path d="M451.8 670.7 L458.5 670.7 L454.7 678.4 L451.8 670.7" stroke-width="0.9"/>
<path d="M615.0 679.5 L672.7 676.5" stroke-width="1.8"/>
<path d="M695.0 671.2 L699.7 674.2" stroke-width="0.8"/>
<path d="M699.7 674.2 L825.0 669.0" stroke-width="1.0"/>
<path d="M825.0 669.0 L840.0 675.0"/>
<path d="M623.2 684.0 L643.5 705.0" stroke-width="1.0"/>
<path d="M807.7 673.5 L807.7 695.2"/>
<path d="M807.7 673.5 L840.0 692.2"/>
<path d="M643.5 705.0 L732.0 701.2"/>
<path d="M771.0 698.2 L840.0 693.7"/>
<path d="M615.0 684.0 L670.0 681.5"/>
<path d="M617.0 706.5 L872.8 693.0" stroke-width="1.0"/>
<path d="M617.0 710.0 L872.8 696.5" stroke-width="1.0"/>
<path d="M616.9 707.8 L618.8 861.6" stroke-width="1.2"/>
<path d="M872.8 694.7 L872.8 836.0" stroke-width="1.0"/>
<path d="M618.8 835.3 L872.8 813.8" stroke-width="1.0"/>
<path d="M634 845.5 L862.5 825 Q864.5 826.2 862.8 828.7 L634.3 849.3 Q632.3 847.5 634 845.5 Z" stroke-width="0.9"/>
<path d="M652.2 805.5 L700.2 754.2 Q702.2 755 702.3 757 L654.6 808.5 Q652.6 807.7 652.2 805.5 Z" fill="#fff" stroke-width="0.9"/>
<circle cx="677" cy="781" r="8.3" fill="#fff" stroke-width="1.0"/>
<path d="M337.0 785.0 L578.0 768.0" stroke-width="1.0"/>
<path d="M337.0 783.0 L578.0 766.0" stroke-width="0.9"/>
<path d="M418.5 779.0 L418.5 784.0"/>
<path d="M500.0 773.5 L500.0 778.5"/>
<path d="M338.0 810.0 L578.0 793.0" stroke-width="0.9"/>
<path d="M338.0 812.0 L578.0 795.0" stroke-width="0.9"/>
<path d="M338.0 831.0 L578.0 815.0" stroke-width="0.9"/>
<path d="M338.0 833.0 L578.0 817.0" stroke-width="0.9"/>
<path d="M338.0 854.0 L578.0 836.0" stroke-width="0.9"/>
<path d="M338.0 856.0 L578.0 838.0" stroke-width="0.9"/>
<path d="M338.0 877.0 L578.0 858.0" stroke-width="0.9"/>
<path d="M338.0 879.0 L578.0 860.0" stroke-width="0.9"/>
<path d="M378.0 784.2 L378.3 807.2"/>
<path d="M380.0 784.2 L380.3 807.2"/>
<path d="M461.0 778.3 L461.3 801.3"/>
<path d="M463.0 778.3 L463.3 801.3"/>
<path d="M541.0 772.6 L541.3 795.6"/>
<path d="M543.0 772.6 L543.3 795.6"/>
<path d="M379.0 830.3 L379.3 850.9"/>
<path d="M381.0 830.3 L381.3 850.9"/>
<path d="M541.0 819.5 L541.3 838.8"/>
<path d="M543.0 819.5 L543.3 838.8"/>
<path d="M578.0 766.0 L579.0 858.0" stroke-width="1.0"/>
<path d="M580.0 766.0 L581.0 858.0" stroke-width="1.0"/>
<path d="M417.0 804.0 L504.0 798.0 L506.0 863.0 L420.0 870.0Z" stroke-width="1.0" fill="#fff"/>
<path d="M417.0 804.0 L504.0 798.0" stroke-width="1.6"/>
<path d="M292.5 754.6 L302.5 891.3" stroke-width="1.0"/>
<path d="M335.0 751.7 L339.4 888.1" stroke-width="1.1"/>
<path d="M302.5 891.3 L339.4 888.1" stroke-width="1.0"/>
<path d="M294.1 776.5 L335.8 774.0" stroke-width="0.9"/>
<path d="M294.1 778.7 L335.8 776.2" stroke-width="0.9"/>
<path d="M295.7 798.0 L336.5 795.6" stroke-width="0.9"/>
<path d="M295.7 800.2 L336.5 797.8" stroke-width="0.9"/>
<path d="M297.4 821.0 L337.2 818.6" stroke-width="0.9"/>
<path d="M297.4 823.2 L337.2 820.8" stroke-width="0.9"/>
<path d="M299.0 844.0 L338.0 841.7" stroke-width="0.9"/>
<path d="M299.0 846.2 L338.0 843.9" stroke-width="0.9"/>
<path d="M300.7 866.5 L338.7 864.2" stroke-width="0.9"/>
<path d="M300.7 868.7 L338.7 866.4" stroke-width="0.9"/>
<path d="M302.5 884.5 L604.0 852.5" stroke-width="0.9"/>
<path d="M271.9 887.5 L298.0 884.8" stroke-width="0.9"/>
<path d="M270.0 896.3 L604.0 866.0" stroke-width="0.9"/>
<path d="M270.0 910.0 L604.0 876.5" stroke-width="0.9"/>
<path d="M270.0 919.4 L604.0 885.5" stroke-width="1.1"/>
<path d="M280.6 839.4 L271.9 887.5 L270.0 919.4" stroke-width="1.0"/>
<path d="M280.6 839.4 L298.8 838.1" stroke-width="1.0"/>
<path d="M280.0 849.4 L298.5 848.1"/>
<path d="M275.0 873.7 L297.5 871.9"/>
<path d="M298.7 849.0 L293.0 886.0"/>
<path d="M300.5 852.0 L295.2 886.0"/>
<path d="M290.0 883.6 Q293.0 885.1 293.0 890.1 L293.0 917.1" stroke-width="0.9"/>
<path d="M292.2 883.6 Q295.2 885.1 295.2 890.1 L295.2 917.1" stroke-width="0.9"/>
<path d="M314.5 881.0 Q317.5 882.5 317.5 887.5 L317.5 914.6" stroke-width="0.9"/>
<path d="M316.7 881.0 Q319.7 882.5 319.7 887.5 L319.7 914.6" stroke-width="0.9"/>
<path d="M339.0 878.5 Q342.0 880.0 342.0 885.0 L342.0 912.1" stroke-width="0.9"/>
<path d="M341.2 878.5 Q344.2 880.0 344.2 885.0 L344.2 912.1" stroke-width="0.9"/>
<path d="M364.0 875.8 Q367.0 877.3 367.0 882.3 L367.0 909.6" stroke-width="0.9"/>
<path d="M366.2 875.8 Q369.2 877.3 369.2 882.3 L369.2 909.6" stroke-width="0.9"/>
<path d="M388.0 873.3 Q391.0 874.8 391.0 879.8 L391.0 907.1" stroke-width="0.9"/>
<path d="M390.2 873.3 Q393.2 874.8 393.2 879.8 L393.2 907.1" stroke-width="0.9"/>
<path d="M412.0 870.8 Q415.0 872.3 415.0 877.3 L415.0 904.7" stroke-width="0.9"/>
<path d="M414.2 870.8 Q417.2 872.3 417.2 877.3 L417.2 904.7" stroke-width="0.9"/>
<path d="M436.0 868.3 Q439.0 869.8 439.0 874.8 L439.0 902.2" stroke-width="0.9"/>
<path d="M438.2 868.3 Q441.2 869.8 441.2 874.8 L441.2 902.2" stroke-width="0.9"/>
<path d="M460.5 865.7 Q463.5 867.2 463.5 872.2 L463.5 899.8" stroke-width="0.9"/>
<path d="M462.7 865.7 Q465.7 867.2 465.7 872.2 L465.7 899.8" stroke-width="0.9"/>
<path d="M485.0 863.2 Q488.0 864.7 488.0 869.7 L488.0 897.3" stroke-width="0.9"/>
<path d="M487.2 863.2 Q490.2 864.7 490.2 869.7 L490.2 897.3" stroke-width="0.9"/>
<path d="M509.5 860.6 Q512.5 862.1 512.5 867.1 L512.5 894.8" stroke-width="0.9"/>
<path d="M511.7 860.6 Q514.7 862.1 514.7 867.1 L514.7 894.8" stroke-width="0.9"/>
<path d="M534.0 858.0 Q537.0 859.5 537.0 864.5 L537.0 892.3" stroke-width="0.9"/>
<path d="M536.2 858.0 Q539.2 859.5 539.2 864.5 L539.2 892.3" stroke-width="0.9"/>
<path d="M558.5 855.5 Q561.5 857.0 561.5 862.0 L561.5 889.8" stroke-width="0.9"/>
<path d="M560.7 855.5 Q563.7 857.0 563.7 862.0 L563.7 889.8" stroke-width="0.9"/>
<path d="M583.0 852.9 Q586.0 854.4 586.0 859.4 L586.0 887.3" stroke-width="0.9"/>
<path d="M585.2 852.9 Q588.2 854.4 588.2 859.4 L588.2 887.3" stroke-width="0.9"/>
<path d="M340.0 877.5 L578.0 859.0" stroke-width="0.9"/>
<path d="M619.0 862.4 L900.0 836.5" stroke-width="0.9"/>
<path d="M604.0 871.5 L900.0 844.0" stroke-width="1.0"/>
<path d="M604.0 883.5 L900.0 856.0" stroke-width="0.9"/>
<path d="M604.0 893.5 L900.0 865.0" stroke-width="1.1"/>
<path d="M604.0 871.5 L604.0 893.5" stroke-width="1.0"/>
<path d="M606.5 871.0 L606.5 893.0" stroke-width="0.8"/>
<path d="M604 871.5 Q606 866 612 865" stroke-width="0.9"/>
<path d="M895 836.8 Q900.5 838 900.5 844 L900.5 865" stroke-width="1.0"/>
<path d="M622.5 862.8 Q626.5 863.8 626.5 870.8 L626.5 891.3" stroke-width="0.9"/>
<path d="M624.5 862.8 Q628.5 863.8 628.5 870.8 L628.5 891.3" stroke-width="0.9"/>
<path d="M645.0 860.7 Q649.0 861.7 649.0 868.7 L649.0 889.2" stroke-width="0.9"/>
<path d="M647.0 860.7 Q651.0 861.7 651.0 868.7 L651.0 889.2" stroke-width="0.9"/>
<path d="M666.5 858.6 Q670.5 859.6 670.5 866.6 L670.5 887.1" stroke-width="0.9"/>
<path d="M668.5 858.6 Q672.5 859.6 672.5 866.6 L672.5 887.1" stroke-width="0.9"/>
<path d="M688.5 856.5 Q692.5 857.5 692.5 864.5 L692.5 885.0" stroke-width="0.9"/>
<path d="M690.5 856.5 Q694.5 857.5 694.5 864.5 L694.5 885.0" stroke-width="0.9"/>
<path d="M710.0 854.4 Q714.0 855.4 714.0 862.4 L714.0 882.9" stroke-width="0.9"/>
<path d="M712.0 854.4 Q716.0 855.4 716.0 862.4 L716.0 882.9" stroke-width="0.9"/>
<path d="M732.0 852.3 Q736.0 853.3 736.0 860.3 L736.0 880.8" stroke-width="0.9"/>
<path d="M734.0 852.3 Q738.0 853.3 738.0 860.3 L738.0 880.8" stroke-width="0.9"/>
<path d="M753.5 850.2 Q757.5 851.2 757.5 858.2 L757.5 878.7" stroke-width="0.9"/>
<path d="M755.5 850.2 Q759.5 851.2 759.5 858.2 L759.5 878.7" stroke-width="0.9"/>
<path d="M775.0 848.2 Q779.0 849.2 779.0 856.2 L779.0 876.7" stroke-width="0.9"/>
<path d="M777.0 848.2 Q781.0 849.2 781.0 856.2 L781.0 876.7" stroke-width="0.9"/>
<path d="M796.5 846.1 Q800.5 847.1 800.5 854.1 L800.5 874.6" stroke-width="0.9"/>
<path d="M798.5 846.1 Q802.5 847.1 802.5 854.1 L802.5 874.6" stroke-width="0.9"/>
<path d="M818.0 844.0 Q822.0 845.0 822.0 852.0 L822.0 872.5" stroke-width="0.9"/>
<path d="M820.0 844.0 Q824.0 845.0 824.0 852.0 L824.0 872.5" stroke-width="0.9"/>
<path d="M839.5 841.9 Q843.5 842.9 843.5 849.9 L843.5 870.4" stroke-width="0.9"/>
<path d="M841.5 841.9 Q845.5 842.9 845.5 849.9 L845.5 870.4" stroke-width="0.9"/>
<path d="M861.0 839.9 Q865.0 840.9 865.0 847.9 L865.0 868.4" stroke-width="0.9"/>
<path d="M863.0 839.9 Q867.0 840.9 867.0 847.9 L867.0 868.4" stroke-width="0.9"/>
<path d="M882.0 837.8 Q886.0 838.8 886.0 845.8 L886.0 866.3" stroke-width="0.9"/>
<path d="M884.0 837.8 Q888.0 838.8 888.0 845.8 L888.0 866.3" stroke-width="0.9"/>
<path d="M303.5 916.3 L309.5 1020.3" stroke-width="1.0"/>
<path d="M341.5 913.0 L345.8 1015.4" stroke-width="1.0"/>
<path d="M309.5 1020.3 L345.8 1015.4" stroke-width="1.0"/>
<path d="M304.2 928.5 L342.2 925.5" stroke-width="0.9"/>
<path d="M304.2 930.7 L342.2 927.7" stroke-width="0.9"/>
<path d="M305.6 953.0 L343.2 950.0" stroke-width="0.9"/>
<path d="M305.6 955.2 L343.2 952.2" stroke-width="0.9"/>
<path d="M306.9 975.5 L344.1 972.5" stroke-width="0.9"/>
<path d="M306.9 977.7 L344.1 974.7" stroke-width="0.9"/>
<path d="M308.2 997.5 L345.0 994.6" stroke-width="0.9"/>
<path d="M308.2 999.7 L345.0 996.8" stroke-width="0.9"/>
<path d="M341.5 913 C345.5 922 347.8 935 347.2 948 C346.8 960 345.5 970 344.3 980 L343.6 980 C343.8 965 344.2 950 343.6 938 C343.2 928 342.5 920 341.5 913 Z" fill="#333" stroke-width="0.8"/>
<path d="M343.3 980 C344.5 990 345 1000 345.5 1012" stroke-width="0.9"/>
<path d="M874.0 713.5 L874.5 839.0" stroke-width="1.0"/>
<path d="M902.5 712.0 L901.5 836.5" stroke-width="1.0"/>
<path d="M874.1 734.0 L902.3 732.6" stroke-width="0.9"/>
<path d="M874.1 736.2 L902.3 734.8" stroke-width="0.9"/>
<path d="M874.2 753.5 L902.2 752.1" stroke-width="0.9"/>
<path d="M874.2 755.7 L902.2 754.3" stroke-width="0.9"/>
<path d="M874.2 774.5 L902.0 773.1" stroke-width="0.9"/>
<path d="M874.2 776.7 L902.0 775.3" stroke-width="0.9"/>
<path d="M874.3 794.5 L901.8 793.1" stroke-width="0.9"/>
<path d="M874.3 796.7 L901.8 795.3" stroke-width="0.9"/>
<path d="M874.4 815.5 L901.7 814.1" stroke-width="0.9"/>
<path d="M874.4 817.7 L901.7 816.3" stroke-width="0.9"/>
<path d="M877.0 692.5 L1207.5 673.5" stroke-width="1.0"/>
<path d="M877.5 705.6 L1207.5 684.5" stroke-width="0.9"/>
<path d="M877.5 713.8 L1207.5 691.5" stroke-width="1.1"/>
<path d="M903.0 659.4 L1124.3 646.9" stroke-width="1.0"/>
<path d="M1124.3 646.9 L1203.0 672.3" stroke-width="1.0"/>
<path d="M1203 672.3 Q1208 673 1208 678 L1207.7 691.2" stroke-width="1.1"/>
<path d="M877 692.5 Q875 693 875 697 L875.5 712" stroke-width="1.0"/>
<path d="M889.4 689.5 Q894.4 690.0 894.4 696.5 L894.4 712.6" stroke-width="0.9"/>
<path d="M891.4 689.5 Q896.4 690.0 896.4 696.5 L896.4 712.6" stroke-width="0.9"/>
<path d="M909.4 688.3 Q914.4 688.8 914.4 695.3 L914.4 711.3" stroke-width="0.9"/>
<path d="M911.4 688.3 Q916.4 688.8 916.4 695.3 L916.4 711.3" stroke-width="0.9"/>
<path d="M929.4 687.2 Q934.4 687.7 934.4 694.2 L934.4 709.9" stroke-width="0.9"/>
<path d="M931.4 687.2 Q936.4 687.7 936.4 694.2 L936.4 709.9" stroke-width="0.9"/>
<path d="M950.0 686.0 Q955.0 686.5 955.0 693.0 L955.0 708.5" stroke-width="0.9"/>
<path d="M952.0 686.0 Q957.0 686.5 957.0 693.0 L957.0 708.5" stroke-width="0.9"/>
<path d="M968.8 684.9 Q973.8 685.4 973.8 691.9 L973.8 707.3" stroke-width="0.9"/>
<path d="M970.8 684.9 Q975.8 685.4 975.8 691.9 L975.8 707.3" stroke-width="0.9"/>
<path d="M988.0 683.8 Q993.0 684.3 993.0 690.8 L993.0 706.0" stroke-width="0.9"/>
<path d="M990.0 683.8 Q995.0 684.3 995.0 690.8 L995.0 706.0" stroke-width="0.9"/>
<path d="M1007.0 682.7 Q1012.0 683.2 1012.0 689.7 L1012.0 704.7" stroke-width="0.9"/>
<path d="M1009.0 682.7 Q1014.0 683.2 1014.0 689.7 L1014.0 704.7" stroke-width="0.9"/>
<path d="M1026.0 681.6 Q1031.0 682.1 1031.0 688.6 L1031.0 703.4" stroke-width="0.9"/>
<path d="M1028.0 681.6 Q1033.0 682.1 1033.0 688.6 L1033.0 703.4" stroke-width="0.9"/>
<path d="M1045.0 680.6 Q1050.0 681.1 1050.0 687.6 L1050.0 702.1" stroke-width="0.9"/>
<path d="M1047.0 680.6 Q1052.0 681.1 1052.0 687.6 L1052.0 702.1" stroke-width="0.9"/>
<path d="M1063.0 679.5 Q1068.0 680.0 1068.0 686.5 L1068.0 700.9" stroke-width="0.9"/>
<path d="M1065.0 679.5 Q1070.0 680.0 1070.0 686.5 L1070.0 700.9" stroke-width="0.9"/>
<path d="M1081.0 678.5 Q1086.0 679.0 1086.0 685.5 L1086.0 699.7" stroke-width="0.9"/>
<path d="M1083.0 678.5 Q1088.0 679.0 1088.0 685.5 L1088.0 699.7" stroke-width="0.9"/>
<path d="M1099.0 677.5 Q1104.0 678.0 1104.0 684.5 L1104.0 698.5" stroke-width="0.9"/>
<path d="M1101.0 677.5 Q1106.0 678.0 1106.0 684.5 L1106.0 698.5" stroke-width="0.9"/>
<path d="M1117.0 676.4 Q1122.0 676.9 1122.0 683.4 L1122.0 697.3" stroke-width="0.9"/>
<path d="M1119.0 676.4 Q1124.0 676.9 1124.0 683.4 L1124.0 697.3" stroke-width="0.9"/>
<path d="M1135.0 675.4 Q1140.0 675.9 1140.0 682.4 L1140.0 696.1" stroke-width="0.9"/>
<path d="M1137.0 675.4 Q1142.0 675.9 1142.0 682.4 L1142.0 696.1" stroke-width="0.9"/>
<path d="M1153.0 674.3 Q1158.0 674.8 1158.0 681.3 L1158.0 694.8" stroke-width="0.9"/>
<path d="M1155.0 674.3 Q1160.0 674.8 1160.0 681.3 L1160.0 694.8" stroke-width="0.9"/>
<path d="M1171.0 673.3 Q1176.0 673.8 1176.0 680.3 L1176.0 693.6" stroke-width="0.9"/>
<path d="M1173.0 673.3 Q1178.0 673.8 1178.0 680.3 L1178.0 693.6" stroke-width="0.9"/>
<path d="M1189.0 672.3 Q1194.0 672.8 1194.0 679.3 L1194.0 692.4" stroke-width="0.9"/>
<path d="M1191.0 672.3 Q1196.0 672.8 1196.0 679.3 L1196.0 692.4" stroke-width="0.9"/>
<path d="M929.4 687.2 L912.3 679.0" stroke-width="1.0"/>
<path d="M931.4 687.2 L914.3 679.0" stroke-width="1.0"/>
<path d="M950.0 686.0 L933.1 678.2" stroke-width="1.0"/>
<path d="M952.0 686.0 L935.1 678.2" stroke-width="1.0"/>
<path d="M968.8 684.9 L910.9 659.0" stroke-width="1.0"/>
<path d="M970.8 684.9 L912.9 659.0" stroke-width="1.0"/>
<path d="M988.0 683.8 L928.6 658.0" stroke-width="1.0"/>
<path d="M990.0 683.8 L930.6 658.0" stroke-width="1.0"/>
<path d="M1007.0 682.7 L946.1 657.0" stroke-width="1.0"/>
<path d="M1009.0 682.7 L948.1 657.0" stroke-width="1.0"/>
<path d="M1026.0 681.6 L963.5 656.0" stroke-width="1.0"/>
<path d="M1028.0 681.6 L965.5 656.0" stroke-width="1.0"/>
<path d="M1045.0 680.6 L981.0 655.0" stroke-width="1.0"/>
<path d="M1047.0 680.6 L983.0 655.0" stroke-width="1.0"/>
<path d="M1063.0 679.5 L997.6 654.1" stroke-width="1.0"/>
<path d="M1065.0 679.5 L999.6 654.1" stroke-width="1.0"/>
<path d="M1081.0 678.5 L1014.1 653.1" stroke-width="1.0"/>
<path d="M1083.0 678.5 L1016.1 653.1" stroke-width="1.0"/>
<path d="M1099.0 677.5 L1030.7 652.2" stroke-width="1.0"/>
<path d="M1101.0 677.5 L1032.7 652.2" stroke-width="1.0"/>
<path d="M1117.0 676.4 L1047.2 651.3" stroke-width="1.0"/>
<path d="M1119.0 676.4 L1049.2 651.3" stroke-width="1.0"/>
<path d="M1135.0 675.4 L1063.8 650.3" stroke-width="1.0"/>
<path d="M1137.0 675.4 L1065.8 650.3" stroke-width="1.0"/>
<path d="M1153.0 674.3 L1080.4 649.4" stroke-width="1.0"/>
<path d="M1155.0 674.3 L1082.4 649.4" stroke-width="1.0"/>
<path d="M1171.0 673.3 L1096.9 648.4" stroke-width="1.0"/>
<path d="M1173.0 673.3 L1098.9 648.4" stroke-width="1.0"/>
<path d="M1189.0 672.3 L1113.5 647.5" stroke-width="1.0"/>
<path d="M1191.0 672.3 L1115.5 647.5" stroke-width="1.0"/>
<path d="M957.2 679.7 L977.9 678.6" stroke-width="1.1"/>
<path d="M994.8 677.6 L1015.3 676.4" stroke-width="1.1"/>
<path d="M1032.2 675.4 L1051.7 674.3" stroke-width="1.1"/>
<path d="M1067.6 673.4 L1087.1 672.3" stroke-width="1.1"/>
<path d="M1103.0 671.4 L1122.5 670.3" stroke-width="1.1"/>
<path d="M1138.5 669.4 L1157.9 668.2" stroke-width="1.1"/>
<path d="M964.2 673.5 L984.4 672.3" stroke-width="1.1"/>
<path d="M1001.0 671.4 L1021.2 670.2" stroke-width="1.1"/>
<path d="M1036.8 669.3 L1056.0 668.2" stroke-width="1.1"/>
<path d="M1071.7 667.3 L1090.8 666.3" stroke-width="1.1"/>
<path d="M1106.5 665.4 L1125.7 664.3" stroke-width="1.1"/>
<path d="M1141.4 663.4 L1160.5 662.3" stroke-width="1.1"/>
<path d="M934.1 669.3 L954.1 668.2" stroke-width="1.1"/>
<path d="M970.4 667.3 L990.3 666.1" stroke-width="1.1"/>
<path d="M1006.6 665.2 L1025.5 664.1" stroke-width="1.1"/>
<path d="M1040.9 663.3 L1059.7 662.2" stroke-width="1.1"/>
<path d="M1075.1 661.3 L1094.0 660.2" stroke-width="1.1"/>
<path d="M1109.4 659.4 L1128.3 658.3" stroke-width="1.1"/>
<path d="M940.5 663.1 L960.0 662.0" stroke-width="1.1"/>
<path d="M976.0 661.1 L995.5 660.0" stroke-width="1.1"/>
<path d="M1010.7 659.2 L1029.2 658.1" stroke-width="1.1"/>
<path d="M1044.3 657.2 L1062.9 656.2" stroke-width="1.1"/>
<path d="M1078.0 655.3 L1096.6 654.3" stroke-width="1.1"/>
<path d="M1111.8 653.4 L1130.3 652.4" stroke-width="1.1"/>
<path d="M903.0 678.7 L996.0 675.6 L962.5 657.8 L903.0 660.2Z" stroke-width="1.0" fill="#fff"/>
<path d="M903.0 681.0 L996.0 677.8" stroke-width="0.9"/>
<path d="M996.0 675.6 L996.3 677.8"/>
<path d="M914.7 635 L914.8 663.5 Q918.5 664.8 923.3 664 L923.3 635" fill="#fff" stroke-width="1.0"/>
<ellipse cx="919" cy="634.6" rx="4.3" ry="1.4" fill="#fff" stroke-width="0.9"/>
<path d="M921 636.8 L923.5 639.5 L926 637.5 L934.5 635.3 L934.7 633.4 L923.5 633.6" fill="#fff" stroke-width="0.9"/>
<path d="M923.3 664 L923.3 658 L937.5 646 Q940.5 645.3 940.3 647.5 L939.5 649 L927.5 663.5 Z" fill="#fff" stroke-width="0.9"/>
<path d="M907.5 713.0 L907.0 742.0" stroke-width="1.0"/>
<path d="M907.0 742.0 L1100.5 727.3" stroke-width="1.0"/>
<path d="M1100.5 700.0 L1098.7 815.4" stroke-width="1.0"/>
<path d="M1130.2 698.2 L1125.5 812.4" stroke-width="1.0"/>
<path d="M1100.5 700.0 L1130.2 698.2" stroke-width="0.9"/>
<path d="M1101.6 719.2 L1129.6 717.4" stroke-width="0.9"/>
<path d="M1098.7 815.4 L1125.5 812.4" stroke-width="1.0"/>
<path d="M1099.9 736.6 L1128.6 735.5" stroke-width="0.9"/>
<path d="M1099.9 738.8 L1128.6 737.7" stroke-width="0.9"/>
<path d="M1099.6 757.6 L1127.8 756.5" stroke-width="0.9"/>
<path d="M1099.6 759.8 L1127.8 758.7" stroke-width="0.9"/>
<path d="M1099.3 776.9 L1127.0 775.8" stroke-width="0.9"/>
<path d="M1099.3 779.1 L1127.0 778.0" stroke-width="0.9"/>
<path d="M1099.0 795.5 L1126.2 794.4" stroke-width="0.9"/>
<path d="M1099.0 797.7 L1126.2 796.6" stroke-width="0.9"/>
<path d="M1189.5 693.6 C1183 695 1178 700 1174 707 C1169 716 1166 722 1160.3 723.4 L1129.9 725" stroke-width="1.0"/>
<path d="M1130.2 698.2 L1129.9 725.0"/>
<path d="M1029.3 733.7 L1028.2 776.9" stroke-width="1.0"/>
<path d="M1081.8 729.6 L1100.5 738.4" stroke-width="1.0"/>
<path d="M1081.8 731.4 L1100.5 740.2" stroke-width="0.9"/>
<path d="M1046.8 732.6 L1100.5 760.0" stroke-width="1.0"/>
<path d="M1046.8 734.4 L1100.5 761.8" stroke-width="0.9"/>
<path d="M1029.3 741.9 L1100.5 778.6" stroke-width="1.0"/>
<path d="M1029.3 743.7 L1100.5 780.4" stroke-width="0.9"/>
<path d="M1029.3 760.0 L1099.3 796.7" stroke-width="1.0"/>
<path d="M1029.3 761.8 L1099.3 798.5" stroke-width="0.9"/>
<path d="M1027.0 776.9 L1098.7 815.4" stroke-width="1.0"/>
<path d="M1081.8 731.4 L1081.8 748.3" stroke-width="1.3"/>
<path d="M1063.0 741.9 L1063.0 758.8" stroke-width="1.3"/>
<path d="M1045.0 751.8 L1045.0 768.7" stroke-width="1.3"/>
<path d="M1080.6 770.5 L1080.6 786.8" stroke-width="1.3"/>
<path d="M1062.0 779.8 L1062.0 795.0" stroke-width="1.3"/>
<path d="M901.8 786.1 L1028.0 776.5" stroke-width="1.0"/>
<path d="M900.0 830.0 L1143.0 810.3" stroke-width="0.9"/>
<path d="M893.5 837.5 L1153.0 816.4" stroke-width="1.0"/>
<path d="M880.0 849.0 L1153.0 823.5" stroke-width="0.9"/>
<path d="M898.8 856.0 L1153.0 832.3" stroke-width="1.1"/>
<path d="M1143 810.3 Q1153 810 1153 816.4 L1153 832.3" stroke-width="1.1"/>
<path d="M1125.5 804.0 L1143.0 810.3"/>
<path d="M888.0 828.5 Q894.0 829.5 894.0 836.5 L894.0 856.4" stroke-width="0.9"/>
<path d="M890.0 828.5 Q896.0 829.5 896.0 836.5 L896.0 856.4" stroke-width="0.9"/>
<path d="M907.0 826.9 Q913.0 827.9 913.0 834.9 L913.0 854.7" stroke-width="0.9"/>
<path d="M909.0 826.9 Q915.0 827.9 915.0 834.9 L915.0 854.7" stroke-width="0.9"/>
<path d="M926.0 825.4 Q932.0 826.4 932.0 833.4 L932.0 852.9" stroke-width="0.9"/>
<path d="M928.0 825.4 Q934.0 826.4 934.0 833.4 L934.0 852.9" stroke-width="0.9"/>
<path d="M945.5 823.8 Q951.5 824.8 951.5 831.8 L951.5 851.1" stroke-width="0.9"/>
<path d="M947.5 823.8 Q953.5 824.8 953.5 831.8 L953.5 851.1" stroke-width="0.9"/>
<path d="M964.5 822.3 Q970.5 823.3 970.5 830.3 L970.5 849.3" stroke-width="0.9"/>
<path d="M966.5 822.3 Q972.5 823.3 972.5 830.3 L972.5 849.3" stroke-width="0.9"/>
<path d="M983.5 820.7 Q989.5 821.7 989.5 828.7 L989.5 847.5" stroke-width="0.9"/>
<path d="M985.5 820.7 Q991.5 821.7 991.5 828.7 L991.5 847.5" stroke-width="0.9"/>
<path d="M1002.5 819.2 Q1008.5 820.2 1008.5 827.2 L1008.5 845.8" stroke-width="0.9"/>
<path d="M1004.5 819.2 Q1010.5 820.2 1010.5 827.2 L1010.5 845.8" stroke-width="0.9"/>
<path d="M1021.5 817.7 Q1027.5 818.7 1027.5 825.7 L1027.5 844.0" stroke-width="0.9"/>
<path d="M1023.5 817.7 Q1029.5 818.7 1029.5 825.7 L1029.5 844.0" stroke-width="0.9"/>
<path d="M1039.5 816.2 Q1045.5 817.2 1045.5 824.2 L1045.5 842.3" stroke-width="0.9"/>
<path d="M1041.5 816.2 Q1047.5 817.2 1047.5 824.2 L1047.5 842.3" stroke-width="0.9"/>
<path d="M1058.0 814.7 Q1064.0 815.7 1064.0 822.7 L1064.0 840.6" stroke-width="0.9"/>
<path d="M1060.0 814.7 Q1066.0 815.7 1066.0 822.7 L1066.0 840.6" stroke-width="0.9"/>
<path d="M1076.5 813.2 Q1082.5 814.2 1082.5 821.2 L1082.5 838.9" stroke-width="0.9"/>
<path d="M1078.5 813.2 Q1084.5 814.2 1084.5 821.2 L1084.5 838.9" stroke-width="0.9"/>
<path d="M1094.0 811.8 Q1100.0 812.8 1100.0 819.8 L1100.0 837.2" stroke-width="0.9"/>
<path d="M1096.0 811.8 Q1102.0 812.8 1102.0 819.8 L1102.0 837.2" stroke-width="0.9"/>
<path d="M1112.0 810.3 Q1118.0 811.3 1118.0 818.3 L1118.0 835.6" stroke-width="0.9"/>
<path d="M1114.0 810.3 Q1120.0 811.3 1120.0 818.3 L1120.0 835.6" stroke-width="0.9"/>
<path d="M1130.0 808.9 Q1136.0 809.9 1136.0 816.9 L1136.0 833.9" stroke-width="0.9"/>
<path d="M1132.0 808.9 Q1138.0 809.9 1138.0 816.9 L1138.0 833.9" stroke-width="0.9"/>
<path d="M907.0 826.9 L902.0 823.4" stroke-width="1.1"/>
<path d="M909.0 826.9 L904.0 823.4" stroke-width="1.1"/>
<path d="M926.0 825.4 L902.0 808.8" stroke-width="1.1"/>
<path d="M928.0 825.4 L904.0 808.8" stroke-width="1.1"/>
<path d="M945.5 823.8 L902.0 794.7" stroke-width="1.1"/>
<path d="M947.5 823.8 L904.0 794.7" stroke-width="1.1"/>
<path d="M964.5 822.3 L908.0 785.6" stroke-width="1.1"/>
<path d="M966.5 822.3 L910.0 785.6" stroke-width="1.1"/>
<path d="M983.5 820.7 L925.6 784.3" stroke-width="1.1"/>
<path d="M985.5 820.7 L927.6 784.3" stroke-width="1.1"/>
<path d="M1002.5 819.2 L943.2 782.9" stroke-width="1.1"/>
<path d="M1004.5 819.2 L945.2 782.9" stroke-width="1.1"/>
<path d="M1021.5 817.7 L960.8 781.6" stroke-width="1.1"/>
<path d="M1023.5 817.7 L962.8 781.6" stroke-width="1.1"/>
<path d="M1039.5 816.2 L977.5 780.3" stroke-width="1.1"/>
<path d="M1041.5 816.2 L979.5 780.3" stroke-width="1.1"/>
<path d="M1058.0 814.7 L994.6 779.0" stroke-width="1.1"/>
<path d="M1060.0 814.7 L996.6 779.0" stroke-width="1.1"/>
<path d="M1076.5 813.2 L1011.8 777.7" stroke-width="1.1"/>
<path d="M1078.5 813.2 L1013.8 777.7" stroke-width="1.1"/>
<path d="M908.2 826.4 L925.5 825.0" stroke-width="1.2"/>
<path d="M941.0 819.5 L958.0 818.1" stroke-width="1.2"/>
<path d="M976.8 815.3 L993.8 813.9" stroke-width="1.2"/>
<path d="M1014.4 812.3 L1030.4 811.0" stroke-width="1.2"/>
<path d="M1050.5 809.4 L1067.1 808.0" stroke-width="1.2"/>
<path d="M919.6 819.6 L937.1 818.2" stroke-width="1.2"/>
<path d="M946.7 809.5 L963.4 808.1" stroke-width="1.2"/>
<path d="M983.7 806.5 L1000.5 805.2" stroke-width="1.2"/>
<path d="M1019.8 803.7 L1036.0 802.4" stroke-width="1.2"/>
<path d="M906.2 825.0 L923.4 823.6" stroke-width="1.2"/>
<path d="M923.6 807.8 L940.2 806.5" stroke-width="1.2"/>
<path d="M953.7 800.7 L970.1 799.4" stroke-width="1.2"/>
<path d="M990.1 797.8 L1005.6 796.6" stroke-width="1.2"/>
<path d="M1025.1 795.1 L1041.1 793.8" stroke-width="1.2"/>
<path d="M910.0 813.0 L927.2 811.6" stroke-width="1.2"/>
<path d="M924.1 794.8 L940.2 793.5" stroke-width="1.2"/>
<path d="M960.0 792.0 L976.1 790.7" stroke-width="1.2"/>
<path d="M995.0 789.3 L1010.6 788.1" stroke-width="1.2"/>
<path d="M904.4 823.7 L921.5 822.3" stroke-width="1.2"/>
<path d="M907.5 797.0 L923.6 795.7" stroke-width="1.2"/>
<path d="M932.2 787.2 L948.1 785.9" stroke-width="1.2"/>
<path d="M967.6 784.5 L982.6 783.3" stroke-width="1.2"/>
<path d="M1001.7 781.9 L1017.1 780.7" stroke-width="1.2"/>
<path d="M622.0 905.5 L826.0 887.5"/>
<path d="M622.0 907.5 L826.0 889.5"/>
<path d="M622.0 924.6 L826.0 903.3" stroke-width="1.0"/>
<path d="M635.0 892.3 L635.2 904.4"/>
<path d="M637.0 892.3 L637.2 904.4"/>
<path d="M713.6 884.7 L713.8 897.4"/>
<path d="M715.6 884.7 L715.8 897.4"/>
<path d="M790.0 877.4 L790.2 890.7"/>
<path d="M792.0 877.4 L792.2 890.7"/>
<path d="M674.0 902.9 L674.2 919.2"/>
<path d="M676.0 902.9 L676.2 919.2"/>
<path d="M752.0 896.0 L752.2 911.0"/>
<path d="M754.0 896.0 L754.2 911.0"/>
<path d="M587.3 888.8 L589.4 986.1" stroke-width="1.0"/>
<path d="M620.1 889.8 L622.2 982.5" stroke-width="1.0"/>
<path d="M589.4 986.1 L622.2 982.5" stroke-width="1.0"/>
<path d="M587.6 900.5 L620.3 898.5" stroke-width="0.9"/>
<path d="M587.6 902.7 L620.3 900.7" stroke-width="0.9"/>
<path d="M588.0 922.0 L620.8 920.0" stroke-width="0.9"/>
<path d="M588.0 924.2 L620.8 922.2" stroke-width="0.9"/>
<path d="M588.5 943.0 L621.3 941.0" stroke-width="0.9"/>
<path d="M588.5 945.2 L621.3 943.2" stroke-width="0.9"/>
<path d="M588.9 964.3 L621.8 962.3" stroke-width="0.9"/>
<path d="M588.9 966.5 L621.8 964.5" stroke-width="0.9"/>
<path d="M565.4 890.8 L565.4 925.2" stroke-width="1.0"/>
<path d="M565.4 925.2 L589.4 986.1" stroke-width="1.0"/>
<path d="M565.4 891.0 L588.0 922.0" stroke-width="1.3"/>
<path d="M566.9 891.0 L589.3 922.5" stroke-width="0.8"/>
<path d="M565.4 908.5 L588.3 944.0" stroke-width="1.3"/>
<path d="M566.9 908.5 L589.6 944.5" stroke-width="0.8"/>
<path d="M573.7 889.8 L588.0 908.0" stroke-width="1.3"/>
<path d="M575.2 889.8 L589.3 908.5" stroke-width="0.8"/>
<path d="M570.0 928.0 L588.5 965.0" stroke-width="1.3"/>
<path d="M571.5 928.0 L589.8 965.5" stroke-width="0.8"/>
<path d="M570.5 898.0 L570.5 915.0" stroke-width="1.1"/>
<path d="M576.0 922.0 L576.0 940.0" stroke-width="1.1"/>
<path d="M580.0 905.0 L580.0 925.0" stroke-width="1.1"/>
<path d="M584.0 935.0 L584.0 952.0" stroke-width="1.1"/>
<path d="M872.0 867.0 L872.0 952.0" stroke-width="1.0"/>
<path d="M901.0 864.0 L901.0 949.0" stroke-width="1.0"/>
<path d="M872.0 952.0 L901.0 949.0" stroke-width="1.0"/>
<path d="M872.0 870.5 L901.0 867.6" stroke-width="0.9"/>
<path d="M872.0 872.7 L901.0 869.8" stroke-width="0.9"/>
<path d="M872.0 892.5 L901.0 889.6" stroke-width="0.9"/>
<path d="M872.0 894.7 L901.0 891.8" stroke-width="0.9"/>
<path d="M872.0 912.5 L901.0 909.6" stroke-width="0.9"/>
<path d="M872.0 914.7 L901.0 911.8" stroke-width="0.9"/>
<path d="M872.0 932.0 L901.0 929.1" stroke-width="0.9"/>
<path d="M872.0 934.2 L901.0 931.3" stroke-width="0.9"/>
<path d="M826.5 871.0 L826.5 904.0" stroke-width="1.0"/>
<path d="M826.5 904.0 L872.0 952.0" stroke-width="1.0"/>
<path d="M847.0 870.0 L872.0 894.0" stroke-width="1.3"/>
<path d="M847.0 871.8 L872.0 895.8" stroke-width="0.8"/>
<path d="M829.0 871.0 L872.0 912.0" stroke-width="1.3"/>
<path d="M829.0 872.8 L872.0 913.8" stroke-width="0.8"/>
<path d="M826.5 887.0 L872.0 933.0" stroke-width="1.3"/>
<path d="M826.5 888.8 L872.0 934.8" stroke-width="0.8"/>
<path d="M833.0 876.0 L833.0 893.0" stroke-width="1.3"/>
<path d="M845.5 869.0 L845.5 886.0" stroke-width="1.3"/>
<path d="M845.5 908.0 L845.5 923.0" stroke-width="1.3"/>
<path d="M858.5 868.0 L858.5 880.0" stroke-width="1.3"/>
<path d="M858.5 902.0 L858.5 919.0" stroke-width="1.3"/>
<path d="M1097.5 838.0 L1095.5 925.5" stroke-width="1.0"/>
<path d="M1124.0 835.0 L1121.5 923.0" stroke-width="1.0"/>
<path d="M1095.5 925.5 L1121.5 923.0" stroke-width="1.0"/>
<path d="M1097.3 848.5 L1123.6 846.7" stroke-width="0.9"/>
<path d="M1097.3 850.7 L1123.6 848.9" stroke-width="0.9"/>
<path d="M1096.8 868.0 L1123.1 866.2" stroke-width="0.9"/>
<path d="M1096.8 870.2 L1123.1 868.4" stroke-width="0.9"/>
<path d="M1096.4 887.0 L1122.5 885.2" stroke-width="0.9"/>
<path d="M1096.4 889.2 L1122.5 887.4" stroke-width="0.9"/>
<path d="M1095.9 906.0 L1122.0 904.2" stroke-width="0.9"/>
<path d="M1095.9 908.2 L1122.0 906.4" stroke-width="0.9"/>
<path d="M1028.0 844.0 L1026.5 877.0" stroke-width="1.0"/>
<path d="M1026.5 877.0 L1095.5 925.5" stroke-width="1.0"/>
<path d="M1028.0 844.5 L1096.5 868.0" stroke-width="1.1"/>
<path d="M1028.0 846.3 L1096.5 869.8" stroke-width="0.8"/>
<path d="M1027.0 860.0 L1096.0 887.0" stroke-width="1.1"/>
<path d="M1027.0 861.8 L1096.0 888.8" stroke-width="0.8"/>
<path d="M1052.0 841.5 L1097.0 849.0" stroke-width="1.1"/>
<path d="M1052.0 843.3 L1097.0 850.8" stroke-width="0.8"/>
<path d="M1026.8 869.0 L1095.8 906.0" stroke-width="1.0"/>
<path d="M1026.8 870.8 L1095.8 907.8" stroke-width="0.8"/>
<path d="M1042.5 856.0 L1042.5 871.0" stroke-width="1.3"/>
<path d="M1060.0 848.0 L1060.0 864.0" stroke-width="1.3"/>
<path d="M1078.5 839.5 L1078.5 857.0" stroke-width="1.3"/>
<path d="M1059.0 885.0 L1059.0 899.0" stroke-width="1.3"/>
<path d="M1078.0 878.0 L1078.0 895.0" stroke-width="1.3"/>
<path d="M1042.0 872.0 L1042.0 884.0" stroke-width="1.3"/>
<path d="M578.4 734.7 L578.6 756.0" stroke-width="1.0"/>
<path d="M582.6 756.0 L584.0 862.9" stroke-width="1.0"/>
<path d="M578.4 756.0 L617.3 755.5" stroke-width="1.0"/>
<path d="M584.0 862.9 L618.0 862.5" stroke-width="1.0"/>
<path d="M583.1 777.0 L617.5 775.8"/>
<path d="M583.1 779.0 L617.5 777.8"/>
<path d="M578.8 773.0 L583.1 777.0" stroke-width="0.9"/>
<path d="M583.3 798.3 L617.5 797.1"/>
<path d="M583.3 800.3 L617.5 799.1"/>
<path d="M579.0 794.3 L583.3 798.3" stroke-width="0.9"/>
<path d="M583.6 820.7 L617.5 819.5"/>
<path d="M583.6 822.7 L617.5 821.5"/>
<path d="M579.2 816.7 L583.6 820.7" stroke-width="0.9"/>
<path d="M583.9 842.0 L617.5 840.8"/>
<path d="M583.9 844.0 L617.5 842.8"/>
<path d="M579.5 838.0 L583.9 842.0" stroke-width="0.9"/>
<path d="M615.9 711.3 Q620.1 711.5 620.1 716 L620.1 731.9" stroke-width="1.0"/>
<path d="M145.4 531.5 L147.6 529.4" stroke-width="1.2"/>
<path d="M1445.0 1041.5 L1448.0 1041.5" stroke-width="1.2"/>
</g>
<g id="dims" stroke="#000" stroke-width="1.1" fill="none">
<path d="M603 243.5H1562M1555.5 251V546.7M1555.5 587.3V906M705 327.5H1476M1471.5 337V615M1471.5 655V899M927 507.5H1386M1377.5 515V700M1377.5 741V901.5M1209 675.5H1306M1301.5 681V780M1301.5 819V907M1149 811.5H1229.7M1221.5 819V848M1221.5 881V913.6M1123 923.5H1560M1123.4 927.4L1191.6 971.2"/>
<path d="M263.5 463.5V522M277.5 467L579 464.3M675 463.7L913.7 461.3M925.5 455.5V525"/>
<path d="M109 699.5H204.6M73 761.5H187.6M109.6 705.2L104.2 714.6M88.9 743.4L81.1 755.6M187.5 761V837.6"/>
<path d="M194.9 829.2L717 788.2M813 780L1203.8 749.1M1209.5 688.8V756.3"/>
<path d="M349.5 1006.8L440.5 996.3M519.3 986.5L584 978.8M633 974.6L703 968.3M802.8 955.3L866.9 948.9M911.5 943.1L972.7 937.1M1047.2 929.2L1087.4 925.3M317.3 1075L724 1024.3M808 1013.8L1166.1 969.1M307.5 1017.3V1096"/>
<path d="M1353 835.4h2.5"/>
</g>
<g id="labels">
<text x="579.8" y="466.8" textLength="72.2" lengthAdjust="spacingAndGlyphs">2050мм</text>
<text x="1501.7" y="566.6" textLength="72.1" lengthAdjust="spacingAndGlyphs">2390мм</text>
<text x="1423.6" y="634.9" textLength="72.3" lengthAdjust="spacingAndGlyphs">2090мм</text>
<text x="1339.6" y="720.6" textLength="72.3" lengthAdjust="spacingAndGlyphs">1580мм</text>
<text x="1262.2" y="800.9" textLength="60.7" lengthAdjust="spacingAndGlyphs">930мм</text>
<text x="1198.9" y="871.3" textLength="62.4" lengthAdjust="spacingAndGlyphs">420мм</text>
<text x="73.8" y="734.4" textLength="61.3" lengthAdjust="spacingAndGlyphs">640мм</text>
<text x="673.8" y="694.8" textLength="61.2" lengthAdjust="spacingAndGlyphs">510мм</text>
<text x="717.7" y="788.7" textLength="72.5" lengthAdjust="spacingAndGlyphs">3340мм</text>
<text x="441.2" y="986.8" textLength="61.6" lengthAdjust="spacingAndGlyphs">770мм</text>
<text x="703.7" y="967.2" textLength="61.6" lengthAdjust="spacingAndGlyphs">890мм</text>
<text x="725.8" y="1020.8" textLength="71.7" lengthAdjust="spacingAndGlyphs">2900мм</text>
<text x="973.8" y="922.7" textLength="61.1" lengthAdjust="spacingAndGlyphs">770мм</text>
</g>

</svg>
</body></html>
